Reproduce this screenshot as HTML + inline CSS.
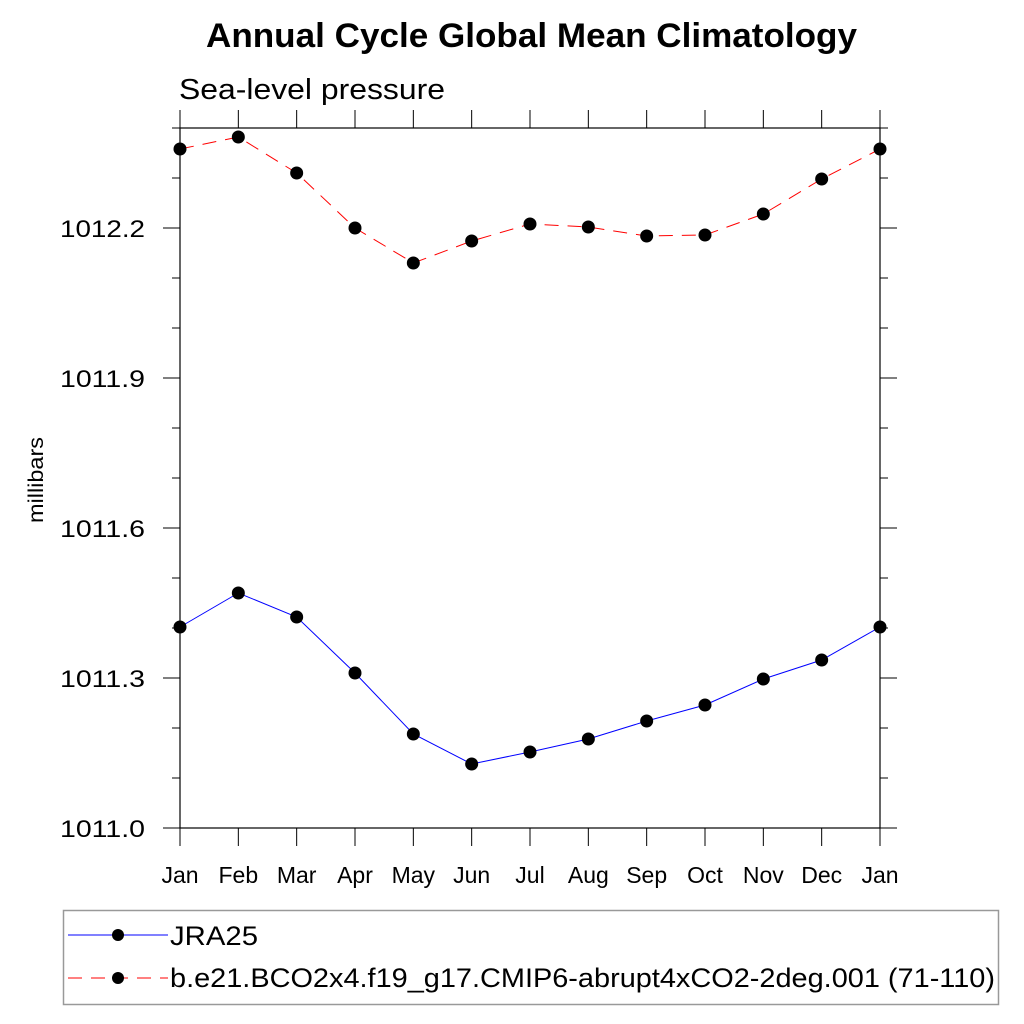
<!DOCTYPE html>
<html><head><meta charset="utf-8"><style>
html,body{margin:0;padding:0;background:#fff;}
svg{display:block;font-family:"Liberation Sans",sans-serif;}
</style></head><body>
<svg id="chart" width="1024" height="1024" viewBox="0 0 1024 1024">
<text x="206" y="47" textLength="651" lengthAdjust="spacingAndGlyphs" font-size="34" font-weight="bold">Annual Cycle Global Mean Climatology</text>
<text x="179" y="99" textLength="266" lengthAdjust="spacingAndGlyphs" font-size="29">Sea-level pressure</text>
<text transform="translate(43,480) rotate(-90)" text-anchor="middle" textLength="86" lengthAdjust="spacingAndGlyphs" font-size="21">millibars</text>
<g id="axes"></g>
<g id="series"></g>
<g>
<rect x="63.5" y="910.5" width="935" height="94" fill="none" stroke="#999" stroke-width="1.5"/>
<g>
<line x1="68" y1="935" x2="168" y2="935" stroke="#0000ff" stroke-width="1"/>
<circle cx="118" cy="935" r="6" fill="#000"/>
<text x="170" y="945" textLength="88" lengthAdjust="spacingAndGlyphs" font-size="27">JRA25</text>
</g>
<g>
<line x1="68" y1="978" x2="168" y2="978" stroke="#ff0000" stroke-width="1" stroke-dasharray="14,9"/>
<circle cx="118" cy="978" r="6" fill="#000"/>
<text x="170" y="987" textLength="825" lengthAdjust="spacingAndGlyphs" font-size="27">b.e21.BCO2x4.f19_g17.CMIP6-abrupt4xCO2-2deg.001 (71-110)</text>
</g>
</g>
</svg>
<script>
const months = ["Jan","Feb","Mar","Apr","May","Jun","Jul","Aug","Sep","Oct","Nov","Dec","Jan"];
const jra25 = [1011.402,1011.470,1011.422,1011.310,1011.188,1011.128,1011.152,1011.178,1011.214,1011.246,1011.298,1011.336,1011.402];
const cmip6 = [1012.358,1012.382,1012.310,1012.200,1012.130,1012.174,1012.208,1012.202,1012.184,1012.186,1012.228,1012.298,1012.358];
const yTickLabels = ["1011.0","1011.3","1011.6","1011.9","1012.2"];
const yMin = 1011.0, yMax = 1012.4;
const L=180,R=880,T=128,B=828;
const NS="http://www.w3.org/2000/svg";
function xs(i){return L+(R-L)*i/(months.length-1);}
function ys(v){return B-(v-yMin)/(yMax-yMin)*(B-T);}
function mk(tag,attrs,parent){const e=document.createElementNS(NS,tag);for(const k in attrs)e.setAttribute(k,attrs[k]);parent.appendChild(e);return e;}
const ax=document.getElementById('axes');
const frame=mk('rect',{x:L,y:T,width:R-L,height:B-T,fill:'none',stroke:'#000','stroke-width':1.2},ax);


for(let k=0;k<=14;k++){
  const v=yMin+k*0.1, y=ys(v), major=(k%3===0);
  const len=major?17:8;
  const t1=mk('line',{x1:L-len,y1:y,x2:L,y2:y,stroke:'#000','stroke-width':1},ax);
  
  
  const t2=mk('line',{x1:R,y1:y,x2:R+len,y2:y,stroke:'#000','stroke-width':1},ax);
  
  
}
yTickLabels.forEach(s=>{
  const t=mk('text',{x:145,y:ys(parseFloat(s))+9,'text-anchor':'end','font-size':24,textLength:85,lengthAdjust:'spacingAndGlyphs'},ax);
  t.textContent=s;
  
  
});
months.forEach((m,i)=>{
  const x=xs(i);
  const a=mk('line',{x1:x,y1:B,x2:x,y2:B+18,stroke:'#000','stroke-width':1},ax);
  
  
  const b=mk('line',{x1:x,y1:T-18,x2:x,y2:T,stroke:'#000','stroke-width':1},ax);
  
  
  const t=mk('text',{x:x,y:883,'text-anchor':'middle','font-size':23},ax);
  t.textContent=m;
  
  
});
const sg=document.getElementById('series');
function drawSeries(vals,color,dash,name){
  const pts=vals.map((v,i)=>xs(i)+','+ys(v)).join(' ');
  const pl=mk('polyline',{points:pts,fill:'none',stroke:color,'stroke-width':1},sg);
  if(dash)pl.setAttribute('stroke-dasharray',dash);
  
  
  vals.forEach((v,i)=>{
    const c=mk('circle',{cx:xs(i),cy:ys(v),r:6.5,fill:'#000'},sg);
    
    
  });
}
drawSeries(jra25,'#0000ff',null,'jra25');
drawSeries(cmip6,'#ff0000','14,9','cmip6');
</script>
</body></html>
